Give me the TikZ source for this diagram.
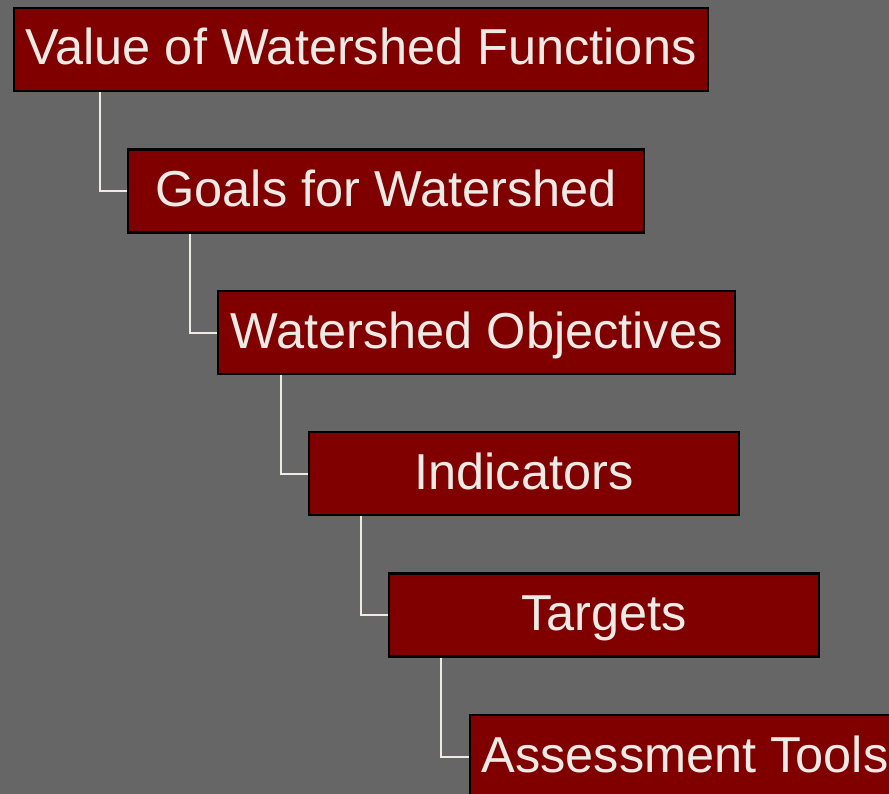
\documentclass[tikz,border=0pt]{standalone}
\usepackage{fontspec}
\setmainfont{Liberation Sans}
\definecolor{bggray}{HTML}{666666}
\definecolor{boxred}{HTML}{800000}
\definecolor{txtlight}{HTML}{EEEBE6}
\begin{document}
\begin{tikzpicture}[x=1bp,y=-1bp,
  item/.style={draw=black, line width=2.2bp, fill=boxred, text=txtlight,
    font=\fontsize{50.5bp}{60bp}\selectfont, inner sep=0pt,
    text height=36bp, text depth=5bp, minimum height=83bp},
  link/.style={draw=txtlight, line width=2bp}]
\fill[bggray] (0,0) rectangle (889,794);
\useasboundingbox (0,0) rectangle (889,794);
\node[item, minimum width=694bp] (b1) at (361,49.5) {Value of Watershed Functions};
\node[item, minimum width=516bp] (b2) at (386,191) {Goals for Watershed};
\node[item, minimum width=517bp] (b3) at (476.5,332.5) {Watershed Objectives};
\node[item, minimum width=430bp] (b4) at (524,473.5) {Indicators};
\node[item, minimum width=430bp] (b5) at (604,615) {Targets};
\node[item, minimum width=430bp] (b6) at (685,756.5) {Assessment Tools};
\draw[link] ([xshift=87bp]b1.south west) |- (b2.west);
\draw[link] ([xshift=63bp]b2.south west) |- (b3.west);
\draw[link] ([xshift=64bp]b3.south west) |- (b4.west);
\draw[link] ([xshift=53bp]b4.south west) |- (b5.west);
\draw[link] ([xshift=53bp]b5.south west) |- (b6.west);
\end{tikzpicture}
\end{document}
